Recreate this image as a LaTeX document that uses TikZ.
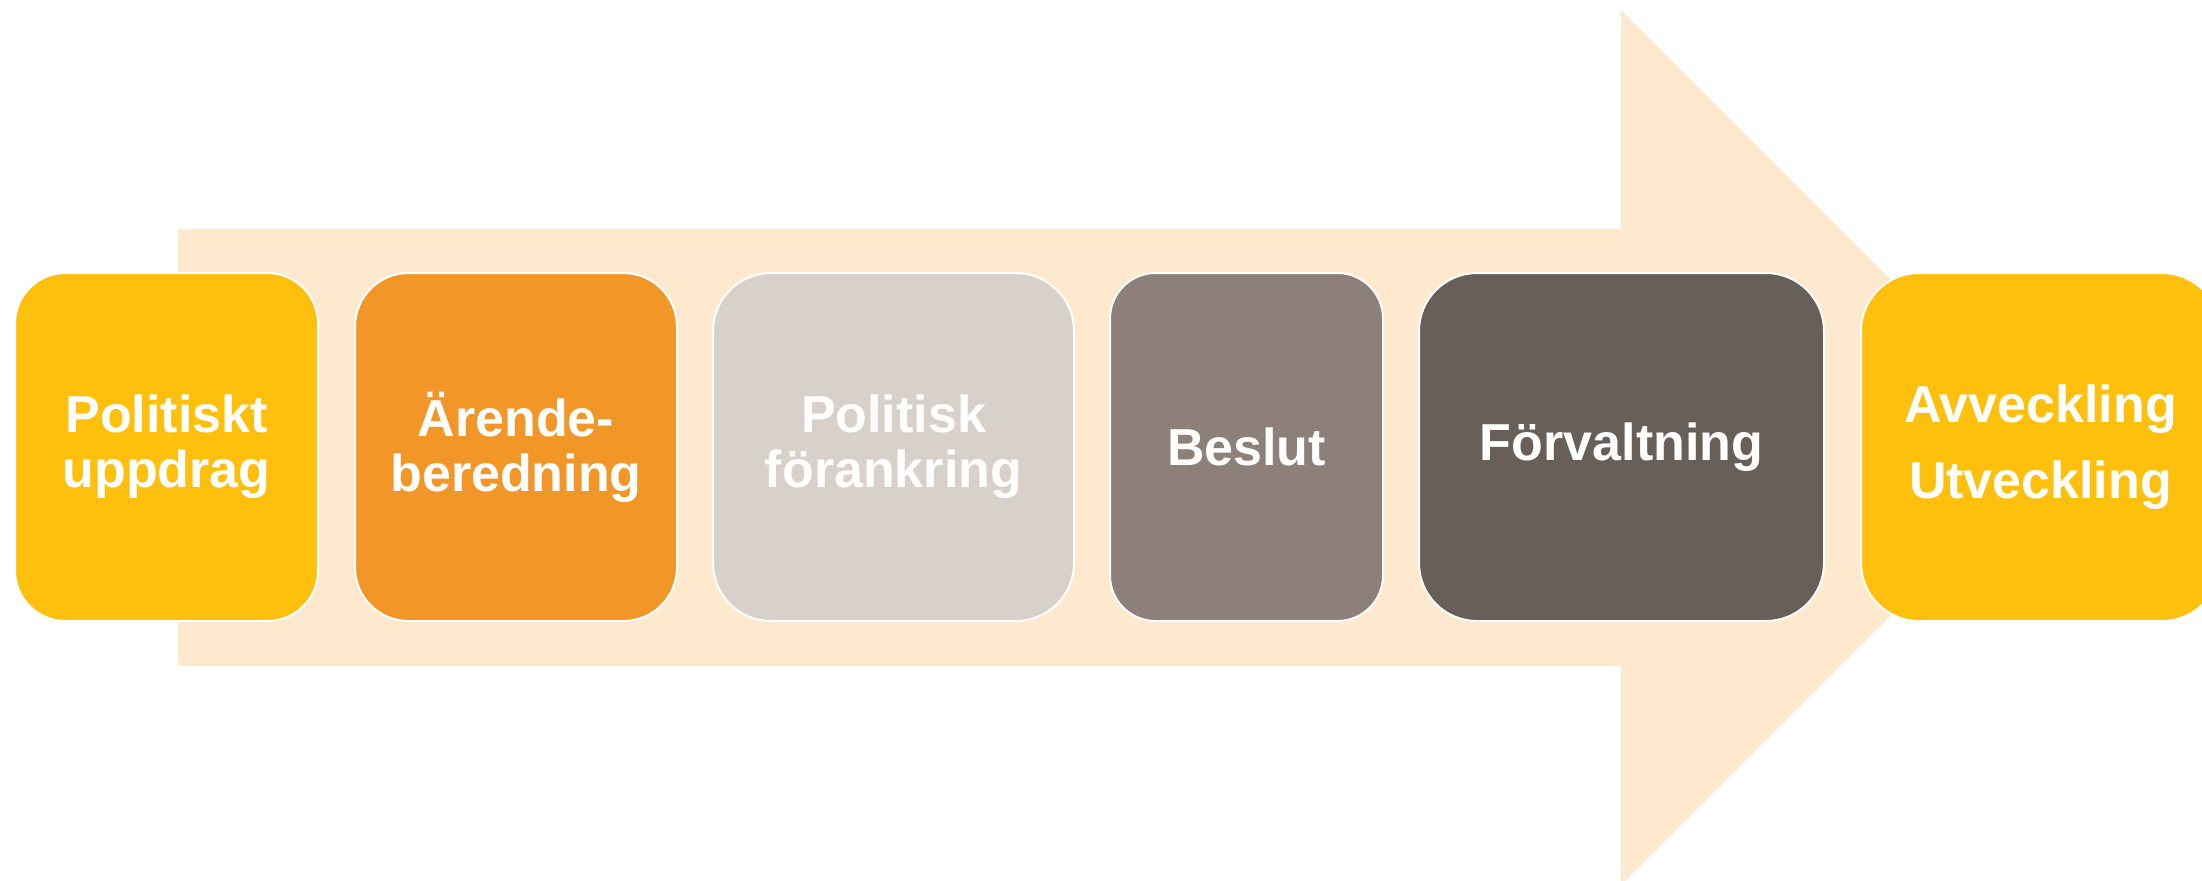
\documentclass[tikz,border=0pt]{standalone}
\usepackage{fontspec}
\setmainfont{Liberation Sans}
\definecolor{arrowc}{HTML}{FEE8CE}
\definecolor{cyellow}{HTML}{FFC00D}
\definecolor{corange}{HTML}{F39628}
\definecolor{clgray}{HTML}{D8D1CA}
\definecolor{cmgray}{HTML}{8C8079}
\definecolor{cdgray}{HTML}{686058}
\tikzset{
  stagebox/.style={draw=white, line width=1pt, inner sep=0pt, minimum height=174pt,
    text=white, align=center,
    font={\fontsize{26}{27.5}\selectfont\bfseries}},
}
\begin{document}
\begin{tikzpicture}[x=0.5pt,y=-0.5pt]
\useasboundingbox (0,0) rectangle (2202,880);
\clip (0,0) rectangle (2202,880);
\fill[arrowc] (178,229) -- (1621,229) -- (1621,10) -- (2058.5,447.5) -- (1621,885) -- (1621,666) -- (178,666) -- cycle;
\node[stagebox, fill=cyellow, minimum width=151.5pt, rounded corners=25.25pt] (b1) at (166.5,447) {Politiskt\\uppdrag};
\node[stagebox, fill=corange, minimum width=161pt, rounded corners=26.8pt] (b2) at (516,447) {Ärende-\\beredning};
\node[stagebox, fill=clgray, minimum width=180.5pt, rounded corners=29pt] (b3) at (893.5,447) {Politisk\\förankring};
\node[stagebox, fill=cmgray, minimum width=136.5pt, rounded corners=22.75pt] (b4) at (1246.5,447) {Beslut};
\node[stagebox, fill=cdgray, minimum width=202.5pt, rounded corners=29pt] (b5) at (1621.5,447) {Förvaltning};
\node[stagebox, fill=cyellow, minimum width=179.5pt, rounded corners=29pt,
  font={\fontsize{26}{38}\selectfont\bfseries}] (b6) at (2040.5,447) {Avveckling\\Utveckling};
\end{tikzpicture}
\end{document}
